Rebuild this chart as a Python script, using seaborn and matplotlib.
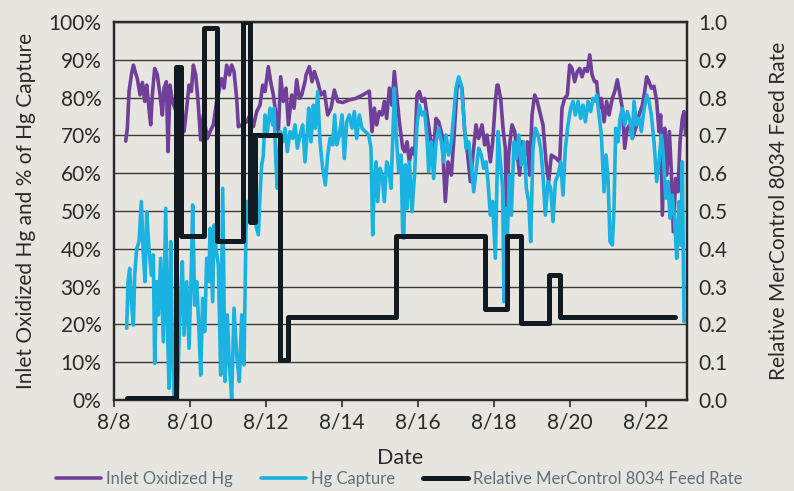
import matplotlib
matplotlib.use("Agg")
import matplotlib.pyplot as plt
from matplotlib import font_manager
import seaborn as sns

# ---------------- data (day of August, value) ----------------
ox_day = [8.307, 8.351, 8.395, 8.456, 8.509, 8.570, 8.614, 8.684, 8.746, 8.807, 8.860, 8.921, 8.965,
          9.009, 9.070, 9.140, 9.211, 9.272, 9.316, 9.377, 9.421, 9.474, 9.535, 9.667, 9.842, 9.912,
          9.974, 10.035, 10.088, 10.149, 10.211, 10.281, 10.351, 10.456,
          10.526, 10.614, 10.702, 10.833, 10.894, 10.965, 11.035, 11.096, 11.158, 11.228, 11.272,
          11.360, 11.491, 11.579, 11.667, 11.754, 11.842, 11.912, 11.974, 12.061, 12.123, 12.193,
          12.263, 12.325, 12.386, 12.456, 12.526, 12.588, 12.675, 12.737, 12.807, 12.877, 12.939, 13.026,
          13.053, 13.141, 13.211, 13.272, 13.360, 13.447, 13.535, 13.623, 13.711, 13.798, 13.886,
          14.018, 14.193, 14.368, 14.544, 14.719, 14.790, 14.851, 14.912, 14.982, 15.053, 15.114,
          15.175, 15.246, 15.316, 15.377, 15.439, 15.509, 15.597,
          15.649, 15.711, 15.772, 15.842, 15.912, 15.974, 16.035, 16.105, 16.175, 16.237, 16.325,
          16.412, 16.474, 16.544, 16.632, 16.719, 16.789, 16.877, 16.939, 17.026, 17.088, 17.158,
          17.228, 17.289, 17.377, 17.465, 17.526, 17.596, 17.684, 17.754, 17.816, 17.904, 17.965,
          18.035, 18.079, 18.105,
          18.175, 18.237, 18.298, 18.333, 18.386, 18.439, 18.474, 18.544, 18.614, 18.675, 18.737,
          18.807, 18.877, 18.939, 19.000, 19.070, 19.140, 19.202, 19.289, 19.377, 19.439, 19.509,
          19.640, 19.728, 19.789, 19.860, 19.930, 19.991, 20.053, 20.123, 20.193, 20.254, 20.316,
          20.386, 20.456, 20.518, 20.579, 20.649,
          20.702, 20.764, 20.825, 20.895, 20.965, 21.027, 21.114, 21.175, 21.246, 21.316, 21.377,
          21.439, 21.509, 21.579, 21.640, 21.728, 21.816, 21.904, 21.965, 22.018, 22.079, 22.140,
          22.211, 22.281, 22.342, 22.386, 22.430, 22.491, 22.544, 22.614, 22.667, 22.719, 22.781,
          22.842, 22.895, 22.956, 23.000, 23.044]
ox_pct = [68.5, 71.9, 81.6, 86.0, 88.6, 86.4, 85.0, 80.7, 84.0, 79.0, 83.3, 77.0, 72.8,
          80.7, 87.7, 86.0, 80.7, 75.4, 82.5, 84.2, 65.7, 83.3, 79.0, 75.4, 71.0, 77.2,
          83.3, 81.6, 88.6, 86.0, 79.0, 68.8, 75.4, 69.2,
          71.0, 72.8, 79.0, 85.0, 82.5, 88.6, 86.0, 88.6, 86.9, 79.8, 72.3,
          72.8, 73.6, 75.4, 72.3, 76.3, 78.0, 83.3, 81.6, 88.2, 84.2, 80.7,
          75.4, 71.0, 85.5, 79.0, 82.5, 72.8, 80.7, 77.2, 84.7, 79.8, 80.7, 84.2,
          86.0, 88.2, 84.2, 86.9, 84.2, 80.7, 81.6, 75.4, 77.2, 82.0, 79.0,
          78.7, 79.4, 79.8, 80.7, 81.7, 71.0, 77.2, 72.8, 76.3, 75.4, 79.0,
          74.5, 82.5, 78.0, 86.9, 80.7, 73.6, 66.6,
          65.7, 68.3, 63.0, 66.6, 64.8, 80.7, 81.6, 79.0, 79.8, 75.4, 69.2,
          65.7, 74.5, 73.6, 70.1, 52.5, 63.0, 59.5, 68.3, 82.5, 84.2, 82.5,
          71.0, 66.6, 57.8, 66.6, 72.8, 69.2, 72.8, 67.5, 70.1, 63.0, 68.3,
          79.0, 83.3, 83.3,
          79.8, 71.9, 66.6, 47.2, 64.8, 70.1, 72.8, 71.0, 64.8, 59.5, 68.3,
          64.8, 68.3, 59.5, 75.4, 80.7, 79.0, 76.3, 72.8, 62.2, 57.8, 64.8,
          63.9, 63.0, 77.2, 79.8, 80.7, 88.6, 87.7, 84.2, 86.9, 87.7, 85.5,
          87.7, 86.9, 91.3, 86.0, 84.2,
          84.2, 77.2, 79.8, 73.6, 79.0, 75.4, 79.8, 81.6, 84.7, 80.7, 77.2,
          66.6, 71.9, 72.8, 69.2, 71.9, 75.4, 78.0, 81.6, 85.5, 84.2, 82.5,
          83.0, 79.0, 71.0, 75.4, 48.9, 71.9, 59.5, 71.0, 60.4, 44.5, 58.6,
          55.1, 68.3, 74.5, 76.3, 70.1]

cap_day = [8.333, 8.368, 8.412, 8.456, 8.509, 8.544, 8.596, 8.658, 8.719, 8.772, 8.816, 8.860, 8.921,
           8.982, 9.035, 9.070, 9.123, 9.167, 9.228, 9.298, 9.360, 9.404, 9.447, 9.491, 9.535, 9.579,
           9.667, 9.737, 9.798, 9.842, 9.912, 9.974, 10.035, 10.070, 10.123, 10.175, 10.237, 10.281,
           10.333, 10.386, 10.439, 10.500,
           10.526, 10.596, 10.632, 10.684, 10.746, 10.807, 10.860, 10.921, 10.982, 11.035, 11.096,
           11.158, 11.228, 11.298, 11.360, 11.421, 11.474, 11.509, 11.561, 11.623, 11.711, 11.798,
           11.842, 11.886, 11.930, 11.974, 12.035, 12.105, 12.175, 12.211, 12.263, 12.298, 12.368,
           12.439, 12.500, 12.561, 12.632, 12.702, 12.763, 12.825, 12.895, 12.965, 13.026, 13.088,
           13.123, 13.184, 13.246, 13.298, 13.360, 13.421, 13.491, 13.561, 13.623, 13.684, 13.754,
           13.807, 13.860, 13.930, 14.000, 14.061, 14.123, 14.193, 14.263, 14.325, 14.386, 14.456,
           14.526, 14.614, 14.702, 14.763, 14.807, 14.851, 14.895, 14.939, 15.000, 15.053, 15.114,
           15.175, 15.228, 15.290, 15.333, 15.377, 15.421, 15.491, 15.553, 15.597,
           15.623, 15.667, 15.711, 15.772, 15.842, 15.912, 15.974, 16.035, 16.105, 16.175, 16.237,
           16.281, 16.351, 16.412, 16.474, 16.544, 16.614, 16.675, 16.737, 16.807, 16.877, 16.939,
           17.000, 17.070, 17.140, 17.202, 17.263, 17.333, 17.404, 17.465, 17.526, 17.596, 17.667,
           17.728, 17.789, 17.842, 17.904, 17.965, 18.035, 18.079,
           18.105, 18.175, 18.228, 18.263, 18.298, 18.351, 18.404, 18.456, 18.526, 18.588, 18.649,
           18.719, 18.789, 18.851, 18.912, 18.965, 19.026, 19.088, 19.158, 19.228, 19.289, 19.351,
           19.421, 19.491, 19.553, 19.614, 19.684, 19.754, 19.816, 19.877, 19.947, 20.018, 20.079,
           20.140, 20.211, 20.281, 20.342, 20.404, 20.474, 20.544, 20.605, 20.667,
           20.702, 20.764, 20.825, 20.895, 20.947, 21.000, 21.053, 21.114, 21.158, 21.202, 21.263,
           21.316, 21.377, 21.439, 21.509, 21.579, 21.640, 21.684, 21.754, 21.816, 21.877, 21.939,
           22.018, 22.079, 22.140, 22.211, 22.281, 22.342, 22.404, 22.456, 22.518, 22.579, 22.632,
           22.693, 22.754, 22.807, 22.868, 22.912, 22.956, 23.000]
cap_pct = [19.0, 31.3, 34.8, 26.0, 19.8, 33.0, 40.0, 41.9, 52.5, 38.4, 31.3, 49.8, 40.0,
           33.0, 38.4, 9.7, 31.3, 22.5, 37.5, 15.4, 50.7, 20.7, 3.1, 41.9, 13.7, 0.4,
           0.4, 24.3, 36.6, 17.2, 31.3, 13.7, 34.8, 51.6, 25.1, 31.3, 18.1, 6.6,
           26.9, 18.1, 37.5, 31.3,
           45.4, 26.0, 46.3, 40.0, 35.7, 6.6, 56.0, 4.9, 22.5, 9.3, 0.4,
           24.3, 11.9, 4.9, 22.5, 9.3, 45.4, 52.5, 47.2, 50.7, 47.2, 43.7,
           54.2, 62.2, 64.8, 75.4, 71.0, 77.2, 72.8, 77.2, 62.2, 56.0, 71.0,
           68.3, 71.9, 65.7, 71.0, 69.2, 72.8, 66.6, 70.1, 72.8, 63.0, 71.0,
           77.2, 68.3, 78.0, 71.9, 81.6, 68.3, 61.3, 56.9, 64.8, 69.2, 67.5,
           75.4, 67.5, 70.1, 75.4, 63.9, 73.6, 75.4, 71.9, 76.3, 69.2, 75.4,
           71.9, 71.0, 70.1, 66.6, 43.7, 57.8, 63.0, 52.5, 61.3, 59.5, 52.5,
           63.0, 61.3, 56.0, 68.3, 82.5, 71.0, 60.4, 64.8, 44.5,
           42.8, 62.2, 50.7, 63.0, 49.8, 60.4, 72.8, 78.0, 75.4, 76.3, 69.2,
           60.4, 68.3, 58.6, 68.3, 71.9, 68.3, 63.0, 70.1, 64.8, 68.3, 75.4,
           82.5, 85.5, 83.3, 75.4, 66.6, 68.3, 62.2, 55.1, 60.4, 66.6, 64.8,
           61.3, 63.0, 57.8, 48.9, 52.5, 37.5, 57.8,
           71.0, 62.2, 56.0, 26.0, 50.7, 43.7, 59.5, 48.9, 68.3, 63.9, 70.1,
           62.2, 68.3, 56.0, 52.5, 41.9, 66.6, 71.9, 70.1, 66.6, 59.5, 48.9,
           57.8, 56.0, 47.2, 57.8, 59.5, 63.0, 54.2, 66.6, 72.8, 77.2, 79.0,
           75.4, 79.0, 74.5, 78.0, 73.6, 79.0, 76.3, 79.8, 79.0,
           80.7, 75.4, 70.1, 55.1, 64.8, 58.6, 41.9, 41.0, 50.7, 71.9, 68.3,
           74.5, 77.2, 72.8, 76.3, 73.6, 69.2, 79.0, 72.8, 74.5, 71.0, 76.3,
           80.7, 79.0, 75.4, 68.3, 57.8, 63.0, 70.1, 64.8, 53.4, 57.8, 48.1,
           54.2, 47.2, 37.5, 52.5, 41.0, 63.0, 20.7]

feed_day = [8.34, 9.62, 9.76, 10.37, 10.72, 11.40, 11.59, 11.63, 11.67, 11.71,
            12.37, 12.58, 15.42, 17.76, 18.34, 18.71, 19.45, 19.74, 22.76]
feed_rate = [0.005, 0.88, 0.435, 0.985, 0.42, 1.00, 0.47, 0.70, 0.47, 0.70,
             0.105, 0.22, 0.435, 0.24, 0.435, 0.205, 0.33, 0.22, 0.22]

x_tick_days = [8, 10, 12, 14, 16, 18, 20, 22]
x_tick_labels = ["8/8", "8/10", "8/12", "8/14", "8/16", "8/18", "8/20", "8/22"]
left_ticks = [0, 10, 20, 30, 40, 50, 60, 70, 80, 90, 100]
right_ticks = [0.0, 0.1, 0.2, 0.3, 0.4, 0.5, 0.6, 0.7, 0.8, 0.9, 1.0]

series_names = ["Inlet Oxidized Hg", "Hg Capture", "Relative MerControl 8034 Feed Rate"]

# ---------------- style ----------------
BG = "#e6e5df"
PURPLE = "#6f3f9a"
BLUE = "#1ab2e0"
BLACK = "#111b21"
TEXT = "#2b2b2b"

sns.set_theme(style="white")

installed = {f.name for f in font_manager.fontManager.ttflist}
if "Liberation Sans Narrow" in installed:
    plt.rcParams["font.family"] = ["Liberation Sans Narrow", "DejaVu Sans"]
    FS_TICK, FS_LAB, FS_DATE, FS_LEG = 17, 16.5, 17.5, 13.5
else:
    plt.rcParams["font.family"] = ["Lato", "DejaVu Sans"]
    FS_TICK, FS_LAB, FS_DATE, FS_LEG = 15, 15, 15.5, 12

fig = plt.figure(figsize=(7.94, 4.91), dpi=100, facecolor=BG)
ax = fig.add_axes([0.1436, 0.1853, 0.7217, 0.7699])
ax.set_facecolor(BG)
ax2 = ax.twinx()

sns.lineplot(x=ox_day, y=ox_pct, ax=ax, color=PURPLE, lw=2.6, label=series_names[0],
             estimator=None, zorder=3)
sns.lineplot(x=cap_day, y=cap_pct, ax=ax, color=BLUE, lw=2.6, label=series_names[1],
             estimator=None, zorder=4)
sns.lineplot(x=feed_day, y=feed_rate, ax=ax2, color=BLACK, lw=3.6, label=series_names[2],
             estimator=None, drawstyle="steps-post", zorder=5)

h1, l1 = ax.get_legend_handles_labels()
h2, l2 = ax2.get_legend_handles_labels()
for a in (ax, ax2):
    if a.get_legend() is not None:
        a.get_legend().remove()

ax.set_xlim(8, 23.08)
ax.set_ylim(0, 100)
ax2.set_ylim(0, 1.0)

ax.set_xticks(x_tick_days)
ax.set_xticklabels(x_tick_labels)
ax.set_yticks(left_ticks)
ax.set_yticklabels([f"{v}%" for v in left_ticks])
ax2.set_yticks(right_ticks)
ax2.set_yticklabels([f"{v:.1f}" for v in right_ticks])

ax.yaxis.grid(True, color="#3a3a3a", lw=1.0)
ax.xaxis.grid(False)
ax2.grid(False)
ax.set_axisbelow(True)

for a in (ax, ax2):
    for s in a.spines.values():
        s.set_color("#2a2a2a")
        s.set_linewidth(1.6)
        s.set_visible(True)

ax.tick_params(axis="x", bottom=True, length=5, width=1.2, direction="out", colors="#2a2a2a",
               labelsize=FS_TICK, pad=4, labelcolor=TEXT)
ax.tick_params(axis="y", left=False, length=0, labelsize=FS_TICK, pad=9, labelcolor=TEXT)
ax2.tick_params(axis="y", right=False, length=0, labelsize=FS_TICK, pad=8, labelcolor=TEXT)

ax.set_xlabel("Date", fontsize=FS_DATE, color=TEXT, labelpad=11)
ax.set_ylabel("Inlet Oxidized Hg and % of Hg Capture", fontsize=FS_LAB, color=TEXT, labelpad=9)
ax2.set_ylabel("Relative MerControl 8034 Feed Rate", fontsize=FS_LAB, color=TEXT, labelpad=30,
               rotation=90)

fig.legend(h1 + h2, l1 + l2, loc="center", bbox_to_anchor=(0.503, 0.024), ncol=3,
           frameon=False, fontsize=FS_LEG, labelcolor="#5d707c", handlelength=2.7,
           handletextpad=0.3, columnspacing=1.7, borderpad=0.1)

fig.savefig("out.png", dpi=100, facecolor=BG)
